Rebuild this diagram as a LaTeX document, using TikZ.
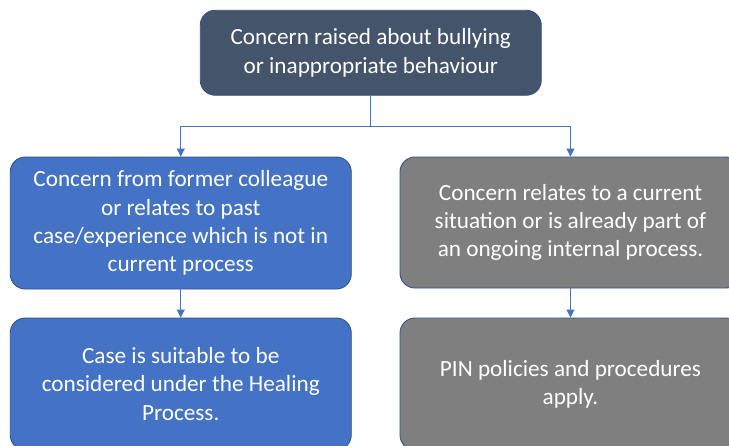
\documentclass[tikz,border=0pt]{standalone}
\usepackage{fontspec}
\setmainfont{Carlito}
\usetikzlibrary{arrows.meta}
\definecolor{topfill}{HTML}{44546A}
\definecolor{bluefill}{HTML}{4472C4}
\definecolor{greyfill}{HTML}{7F7F7F}
\definecolor{edgeblue}{HTML}{2F528F}
\definecolor{linkblue}{HTML}{4472C4}
\tikzset{
  box/.style={draw=edgeblue, line width=0.9pt, rounded corners=15pt,
    minimum width=341pt, text=white, align=center, inner sep=0pt,
    font=\fontsize{23.2}{28.3}\selectfont,
    execute at begin node={\rule{0pt}{26pt}}},
  link/.style={draw=linkblue, line width=0.9pt},
  arr/.style={link, -{Triangle[width=8pt,length=8pt]}}
}
\begin{document}
\begin{tikzpicture}[x=1pt,y=-1pt]
\useasboundingbox (0,0) rectangle (729,445);
\clip (0,0) rectangle (729,445);
\fill[white] (0,0) rectangle (729,445);

\node[box, fill=topfill, minimum height=85pt] (top) at (370.75,52.75)
  {Concern raised about bullying\\or inappropriate behaviour};

\node[box, fill=bluefill, minimum height=132pt] (past) at (180.75,223)
  {Concern from former colleague\\or relates to past\\case/experience which is not in\\current process};
\node[box, fill=greyfill, minimum height=131pt] (current) at (570.5,222.5)
  {Concern relates to a current\\situation or is already part of\\an ongoing internal process.};

\node[box, fill=bluefill, minimum height=132pt] (healing) at (180.75,384)
  {Case is suitable to be\\considered under the Healing\\Process.};
\node[box, fill=greyfill, minimum height=132pt] (pin) at (570.5,384)
  {PIN policies and procedures\\apply.};

% branch point below the top box
\coordinate (split) at (370.75,126);
\draw[link] (top.south) -- (split);
\draw[arr] (split) -| (past.north);
\draw[arr] (split) -| (current.north);

\draw[arr] (past.south) -- (healing.north);
\draw[arr] (current.south) -- (pin.north);
\end{tikzpicture}
\end{document}
